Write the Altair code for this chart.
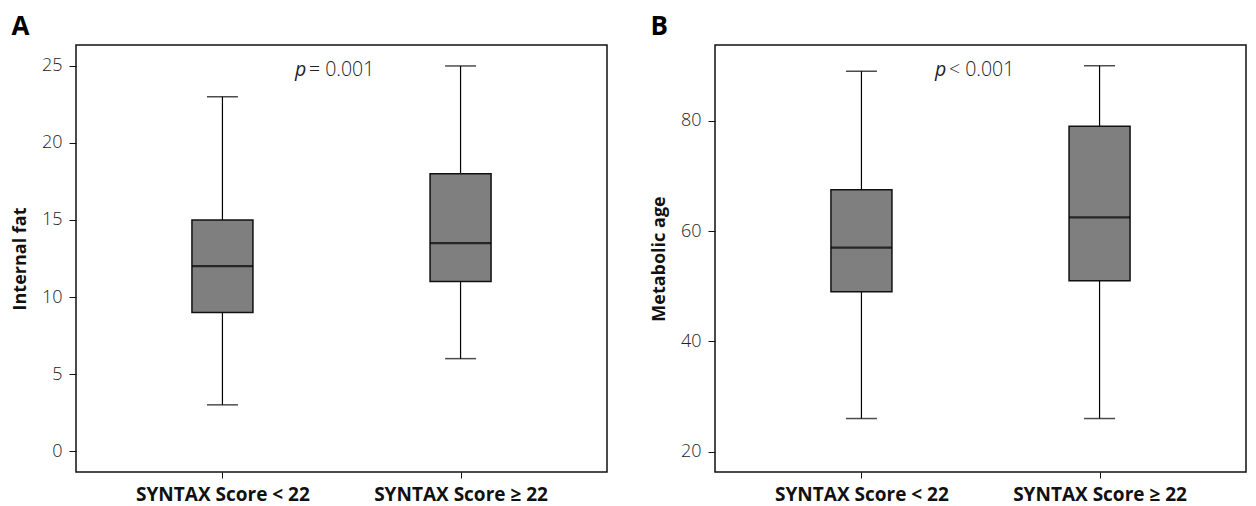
import altair as alt
import pandas as pd

groups = ["SYNTAX Score < 22", "SYNTAX Score ≥ 22"]

# Panel A: Internal fat
a_min = [3, 6]
a_q1 = [9, 11]
a_med = [12, 13.5]
a_q3 = [15, 18]
a_max = [23, 25]

# Panel B: Metabolic age
b_min = [26, 26]
b_q1 = [49, 51]
b_med = [57, 62.5]
b_q3 = [67.5, 79]
b_max = [89, 90]

p_texts = ["= 0.001", "< 0.001"]

FONT = "Open Sans"
W, H = 531, 427


def panel(letter, ytitle, mins, q1, med, q3, maxs, ydomain, yticks, ptext, px):
    df = pd.DataFrame({"g": groups, "lo": mins, "q1": q1, "med": med, "q3": q3, "hi": maxs})
    xenc = alt.X("g:N", sort=None, title=None,
                 scale=alt.Scale(type="point", padding=0.615),
                 axis=alt.Axis(labelAngle=0, labelFont=FONT, labelFontSize=19,
                               labelFontWeight="bold", labelColor="#111",
                               tickSize=6, tickColor="#111", domain=False,
                               labelPadding=7))
    yscale = alt.Scale(domain=ydomain, nice=False, zero=False)
    yaxis = alt.Axis(values=yticks, grid=False, domain=False, tickSize=7,
                     tickColor="#111", labelFont=FONT, labelFontSize=18,
                     labelFontWeight=300, labelColor="#222", labelPadding=7,
                     titleFont=FONT, titleFontSize=18, titleFontWeight="bold",
                     titleColor="#111", titlePadding=12)
    base = alt.Chart(df)
    whisk = base.mark_rule(color="black", strokeWidth=1.2).encode(
        x=xenc, y=alt.Y("lo:Q", scale=yscale, axis=yaxis, title=ytitle), y2="hi:Q")
    cap_lo = base.mark_tick(color="black", size=31, thickness=1.5).encode(
        x=alt.X("g:N", sort=None), y="lo:Q")
    cap_hi = base.mark_tick(color="black", size=31, thickness=1.5).encode(
        x=alt.X("g:N", sort=None), y="hi:Q")
    box = base.mark_bar(size=61, fill="#7f7f7f", stroke="#111", strokeWidth=1.5).encode(
        x=alt.X("g:N", sort=None), y="q1:Q", y2="q3:Q")
    median = base.mark_tick(color="black", size=61, thickness=2.2).encode(
        x=alt.X("g:N", sort=None), y="med:Q")
    ptxt = pd.DataFrame({"t": ["p", ptext]})
    p_it = alt.Chart(ptxt.iloc[[0]]).mark_text(
        font=FONT, fontSize=19.5, fontStyle="italic", align="left", baseline="middle",
        color="#222").encode(x=alt.value(px[0]), y=alt.value(25), text="t:N")
    p_rest = alt.Chart(ptxt.iloc[[1]]).mark_text(
        font=FONT, fontSize=19.5, fontWeight=300, align="left", baseline="middle",
        color="#222").encode(x=alt.value(px[1]), y=alt.value(25), text="t:N")
    return alt.layer(whisk, box, median, cap_lo, cap_hi, p_it, p_rest).properties(
        width=W, height=H,
        title=alt.TitleParams(letter, anchor="start", font=FONT, fontSize=26,
                              fontWeight="bold", color="black", offset=5))


pa = panel("A", "Internal fat", a_min, a_q1, a_med, a_q3, a_max,
           [-1.36, 26.36], [0, 5, 10, 15, 20, 25], p_texts[0], (219, 233))
pb = panel("B", "Metabolic age", b_min, b_q1, b_med, b_q3, b_max,
           [16.3, 93.76], [20, 40, 60, 80], p_texts[1], (220, 234))

chart = alt.hconcat(pa, pb, spacing=41).properties(
    padding={"left": 2, "top": 5, "right": 0, "bottom": 0}
).configure_view(stroke="#111", strokeWidth=1.5).configure_concat(spacing=41)

chart.save("out.html", embed_options={"renderer": "svg", "actions": False})
